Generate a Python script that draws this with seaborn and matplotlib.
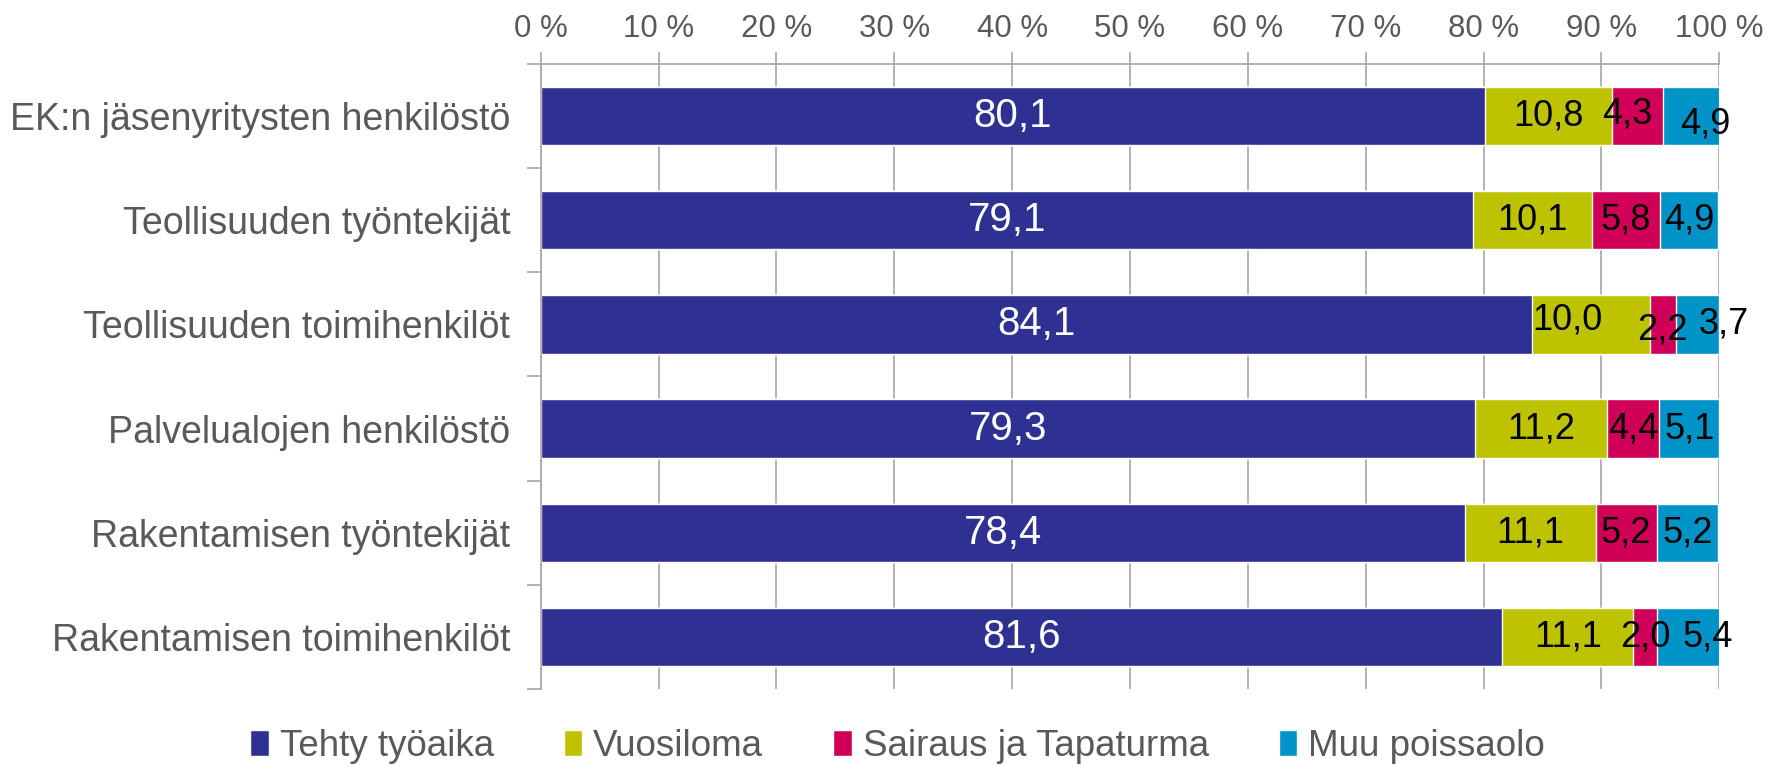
import numpy as np
import pandas as pd
import matplotlib
matplotlib.use('Agg')
import matplotlib.pyplot as plt
import seaborn as sns
from matplotlib.patches import Patch

sns.set_style('white')
plt.rcParams['font.family'] = ['Liberation Sans', 'DejaVu Sans']

# --- data ---
groups = ['EK:n jäsenyritysten henkilöstö', 'Teollisuuden työntekijät',
          'Teollisuuden toimihenkilöt', 'Palvelualojen henkilöstö',
          'Rakentamisen työntekijät', 'Rakentamisen toimihenkilöt']
series = ['Tehty työaika', 'Vuosiloma', 'Sairaus ja Tapaturma', 'Muu poissaolo']
tehty = [80.1, 79.1, 84.1, 79.3, 78.4, 81.6]
vuosiloma = [10.8, 10.1, 10.0, 11.2, 11.1, 11.1]
sairaus = [4.3, 5.8, 2.2, 4.4, 5.2, 2.0]
muu = [4.9, 4.9, 3.7, 5.1, 5.2, 5.4]
colors = ['#2E3192', '#BDC300', '#D00058', '#0093C8']
ticks = [0, 10, 20, 30, 40, 50, 60, 70, 80, 90, 100]

# a few labels were nudged by hand in the original: (series, row) -> (dx %, dy rows)
nudge = {(2, 0): (-0.9, -0.02), (3, 0): (1.2, 0.08),
         (1, 2): (-2.0, -0.04), (2, 2): (0.0, 0.05), (3, 2): (2.2, 0.0),
         (3, 5): (1.6, 0.0)}

df = pd.DataFrame({'group': groups, series[0]: tehty, series[1]: vuosiloma,
                   series[2]: sairaus, series[3]: muu})
cum = df[series].cumsum(axis=1)

fig = plt.figure(figsize=(17.67, 7.66), dpi=100)
ax = fig.add_axes([0.306, 0.10, 0.667, 0.817])

# draw stacked bars from the total down so each layer shows its own segment
for i in range(len(series) - 1, -1, -1):
    sns.barplot(x=cum[series[i]], y=df['group'], orient='h', color=colors[i],
                width=0.56, saturation=1, ax=ax, zorder=2)

# value labels
for i, s in enumerate(series):
    left = cum[s] - df[s]
    for j, v in enumerate(df[s]):
        dx, dy = nudge.get((i, j), (0, 0))
        ax.text(left[j] + v / 2 + dx, j + dy, f'{v:.1f}'.replace('.', ','),
                ha='center', va='center',
                color='white' if i == 0 else 'black',
                fontsize=29 if i == 0 else 26, zorder=3)

ax.set_xlim(0, 100)
ax.set_ylim(5.5, -0.5)
ax.xaxis.tick_top()
ax.set_xticks(ticks)
ax.set_xticklabels([f'{t} %' for t in ticks])
ax.grid(axis='x', color='#A6A6A6', linewidth=1.2, zorder=0)
ax.set_xlabel('')
ax.set_ylabel('')
ax.tick_params(axis='x', colors='#A6A6A6', labelcolor='#595959', labelsize=22.5,
               length=9, width=1.2, top=True, bottom=False, pad=5)
ax.tick_params(axis='y', labelcolor='#595959', labelsize=27, length=0, pad=22)
ax.set_yticks(np.arange(-0.5, 6, 1), minor=True)
ax.tick_params(axis='y', which='minor', length=10, width=1.2, color='#A6A6A6', left=True)
for side in ['right', 'bottom']:
    ax.spines[side].set_visible(False)
ax.spines['left'].set_color('#A6A6A6')
ax.spines['top'].set_color('#A6A6A6')
ax.spines['left'].set_linewidth(1.2)
ax.spines['top'].set_linewidth(1.2)

handles = [Patch(facecolor=c, label=s) for c, s in zip(colors, series)]
fig.legend(handles=handles, loc='lower center', ncol=4, frameon=False,
           bbox_to_anchor=(0.508, -0.04), fontsize=26.5, labelcolor='#595959',
           handlelength=0.5, handleheight=0.7, handletextpad=0.3, columnspacing=1.9)

fig.savefig('out.png', dpi=100)
